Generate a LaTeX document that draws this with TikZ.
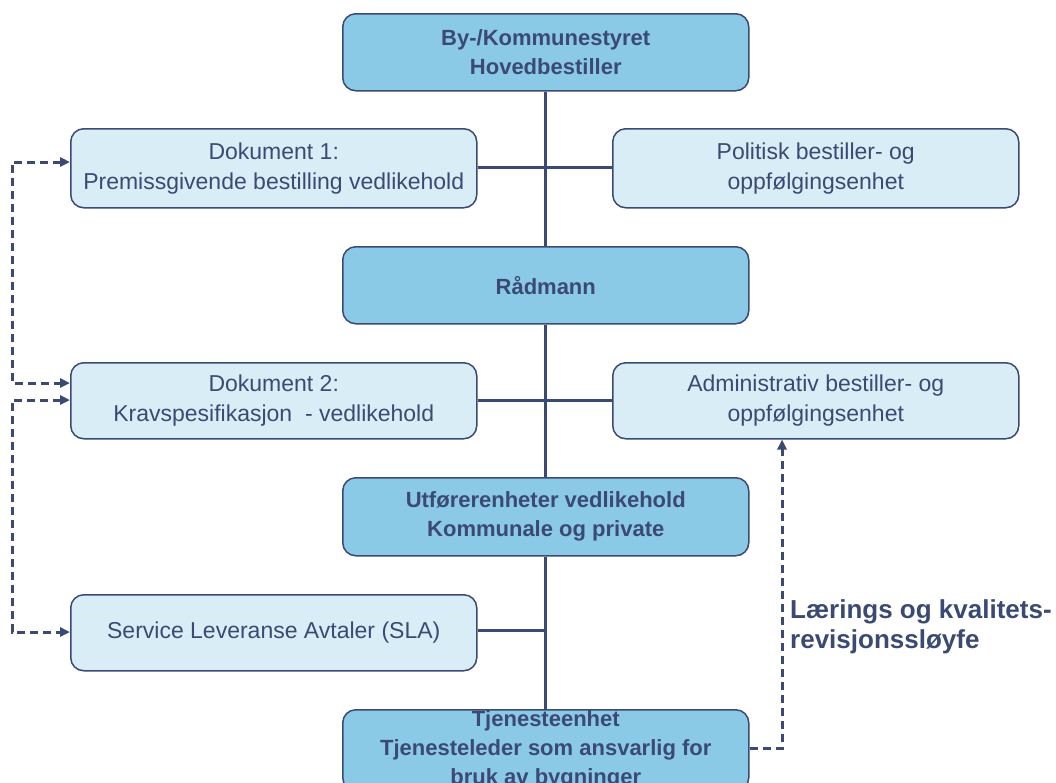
\documentclass[tikz,border=0pt]{standalone}
\usepackage{fontspec}
\setmainfont{Liberation Sans}
\usetikzlibrary{arrows.meta,positioning}
\definecolor{navy}{HTML}{3B4A73}
\definecolor{midblue}{HTML}{8BCAE6}
\definecolor{lightblue}{HTML}{D9EDF7}
\tikzset{
  box/.style={draw=navy, line width=1.5pt, rounded corners=13pt, anchor=north west, inner sep=0pt,
    minimum width=406pt, align=center, text=navy},
  mainbox/.style={box, fill=midblue, font=\fontsize{22}{29}\selectfont\bfseries},
  docbox/.style={box, fill=lightblue, font=\fontsize{23}{30}\selectfont},
  trunk/.style={draw=navy, line width=3pt},
  loop/.style={draw=navy, line width=3pt, dash pattern=on 8pt off 5pt},
  tip/.style={-{Triangle[length=10pt,width=9pt]}},
}
\begin{document}
\begin{tikzpicture}[x=1pt,y=-1pt]
\useasboundingbox (0,0) rectangle (1056,782);
% nodes
\node[mainbox, minimum height=77pt] (top) at (342,13) {By-/Kommunestyret\\Hovedbestiller};
\node[docbox, minimum height=79pt] (dok1) at (70,128) {Dokument 1:\\Premissgivende bestilling vedlikehold};
\node[docbox, minimum height=79pt] (pol) at (612,128) {Politisk bestiller- og\\oppfølgingsenhet};
\node[mainbox, minimum height=77pt] (rad) at (342,246) {Rådmann};
\node[docbox, minimum height=76pt] (dok2) at (70,362) {Dokument 2:\\Kravspesifikasjon \ - vedlikehold};
\node[docbox, minimum height=76pt] (adm) at (612,362) {Administrativ bestiller- og\\oppfølgingsenhet};
\node[mainbox, minimum height=78pt] (utf) at (342,477) {Utførerenheter vedlikehold\\Kommunale og private};
\node[docbox, minimum height=76pt] (sla) at (70,594) {Service Leveranse Avtaler (SLA)};
\node[mainbox, minimum height=81pt] (tje) at (342,709) {Tjenesteenhet\\Tjenesteleder som ansvarlig for\\bruk av bygninger};
% trunk
\coordinate (j1) at (545,167);
\coordinate (j2) at (545,400);
\coordinate (j3) at (545,630);
\draw[trunk] (top.south) -- (rad.north);
\draw[trunk] (rad.south) -- (utf.north);
\draw[trunk] (utf.south) -- (tje.north);
\draw[trunk] (dok1.east |- j1) -- (pol.west |- j1);
\draw[trunk] (dok2.east |- j2) -- (adm.west |- j2);
\draw[trunk] (sla.east |- j3) -- (j3);
% left dashed loops
\coordinate (a1) at (12,162);
\coordinate (a2) at (12,383);
\coordinate (b1) at (12,400);
\coordinate (b2) at (12,632);
\draw[loop, {Triangle[length=10pt,width=9pt]}-{Triangle[length=10pt,width=9pt]}]
  (dok1.west |- a1) -- (a1) -- (a2) -- (dok2.west |- a2);
\draw[loop, {Triangle[length=10pt,width=9pt]}-{Triangle[length=10pt,width=9pt]}]
  (dok2.west |- b1) -- (b1) -- (b2) -- (sla.west |- b2);
% right loop
\coordinate (r1) at (782,748);
\draw[loop, tip] (tje.east |- r1) -- (r1) -- (r1 |- adm.south);
\node[anchor=north west, inner sep=0pt, align=left, text=navy,
  font=\fontsize{26}{30}\selectfont\bfseries] (lab) at (790,599)
  {Lærings og kvalitets-\\revisjonssløyfe};
\end{tikzpicture}
\end{document}
